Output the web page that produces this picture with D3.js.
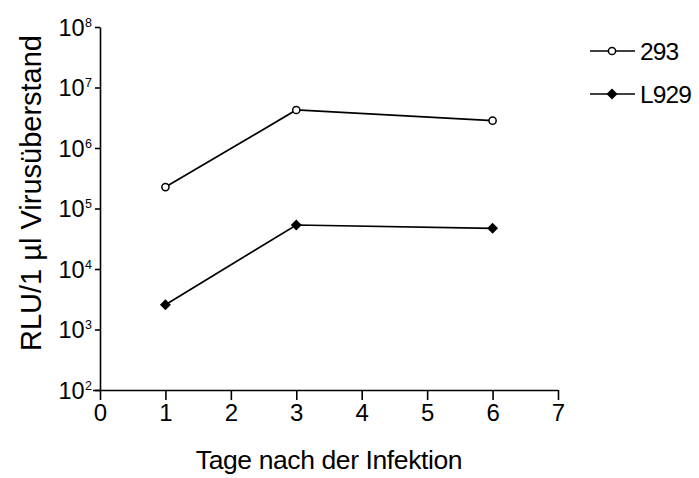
<!DOCTYPE html>
<html>
<head>
<meta charset="utf-8">
<script src="https://cdn.jsdelivr.net/npm/d3@7"></script>
<style>
  html, body { margin: 0; padding: 0; background: #fff; }
  svg { display: block; font-family: "Liberation Sans", Arial, sans-serif; }
</style>
</head>
<body>
<svg id="chart" width="699" height="478"></svg>
<script>
// Days after infection
const days = [1, 3, 6];
// RLU per 1 µl virus supernatant
const values293 = [2.26e5, 4.25e6, 2.83e6];
const valuesL929 = [2.57e3, 5.34e4, 4.7e4];
const seriesNames = ["293", "L929"];
const xTicks = [0, 1, 2, 3, 4, 5, 6, 7];
const yExponents = [2, 3, 4, 5, 6, 7, 8];

const svg = d3.select("#chart");
const x = d3.scaleLinear().domain([0, 7]).range([100, 558]);
const y = d3.scaleLog().domain([1e2, 1e8]).range([390, 27]);

// X axis
const gx = svg.append("g").attr("transform", `translate(0,${y(1e2)})`)
  .call(d3.axisBottom(x).tickValues(xTicks).tickFormat(d3.format("d"))
    .tickSize(10).tickSizeOuter(0).tickPadding(4));
gx.select(".domain").attr("stroke", "#000").attr("stroke-width", 1.6).attr("d", `M93,0.5H${x(7)}`);
gx.selectAll(".tick line").attr("stroke", "#000").attr("stroke-width", 1.6);
gx.selectAll(".tick text").attr("font-size", 24).attr("fill", "#000")
  .attr("font-family", "Liberation Sans, Arial, sans-serif");

// Y axis
const gy = svg.append("g").attr("transform", `translate(${x(0)},0)`)
  .call(d3.axisLeft(y).tickValues(yExponents.map(e => Math.pow(10, e)))
    .tickSize(5).tickSizeOuter(0).tickFormat(() => ""));
gy.select(".domain").attr("stroke", "#000").attr("stroke-width", 1.6);
gy.selectAll(".tick line").attr("stroke", "#000").attr("stroke-width", 1.6);
gy.selectAll(".tick text").remove();

// Power-of-ten tick labels
const yl = svg.append("g");
yExponents.forEach(e => {
  const t = yl.append("text")
    .attr("x", 92).attr("y", y(Math.pow(10, e)) + 8.5)
    .attr("text-anchor", "end").attr("font-size", 23.5).attr("fill", "#000");
  t.append("tspan").text("10");
  t.append("tspan").attr("dy", -9).attr("dx", 0.5).attr("font-size", 12.5).text(e);
});

// Series lines and markers
const line = d3.line().x((d, i) => x(days[i])).y(d => y(d));
svg.append("path").datum(values293).attr("d", line)
  .attr("fill", "none").attr("stroke", "#000").attr("stroke-width", 1.7);
svg.append("path").datum(valuesL929).attr("d", line)
  .attr("fill", "none").attr("stroke", "#000").attr("stroke-width", 1.7);

const diamond = d3.symbol().type(d3.symbolSquare).size(60);

svg.selectAll("circle.s293").data(values293).join("circle")
  .attr("cx", (d, i) => x(days[i])).attr("cy", d => y(d)).attr("r", 3.6)
  .attr("fill", "#fff").attr("stroke", "#000").attr("stroke-width", 1.5);
svg.selectAll("path.sL929").data(valuesL929).join("path")
  .attr("class", "sL929")
  .attr("transform", (d, i) => `translate(${x(days[i])},${y(d)}) rotate(45)`)
  .attr("d", diamond).attr("fill", "#000");

// Legend
const lg = svg.append("g");
[0, 1].forEach(i => {
  const ly = 51 + i * 43;
  lg.append("line").attr("x1", 590).attr("x2", 635).attr("y1", ly).attr("y2", ly)
    .attr("stroke", "#000").attr("stroke-width", 1.6);
  if (i === 0) {
    lg.append("circle").attr("cx", 612).attr("cy", ly).attr("r", 3.6)
      .attr("fill", "#fff").attr("stroke", "#000").attr("stroke-width", 1.5);
  } else {
    lg.append("path").attr("transform", `translate(612,${ly}) rotate(45)`).attr("d", diamond).attr("fill", "#000");
  }
  lg.append("text").attr("x", 640).attr("y", ly + 8.5).attr("font-size", 24.5)
    .attr("letter-spacing", -0.9).attr("fill", "#000").text(seriesNames[i]);
});

// Axis titles
svg.append("text").attr("x", 329).attr("y", 469).attr("text-anchor", "middle")
  .attr("font-size", 26.5).attr("letter-spacing", -0.4).attr("fill", "#000")
  .text("Tage nach der Infektion");
svg.append("text").attr("transform", "translate(41,193) rotate(-90)")
  .attr("text-anchor", "middle").attr("font-size", 29).attr("fill", "#000")
  .text("RLU/1 µl Virusüberstand");
</script>
</body>
</html>
